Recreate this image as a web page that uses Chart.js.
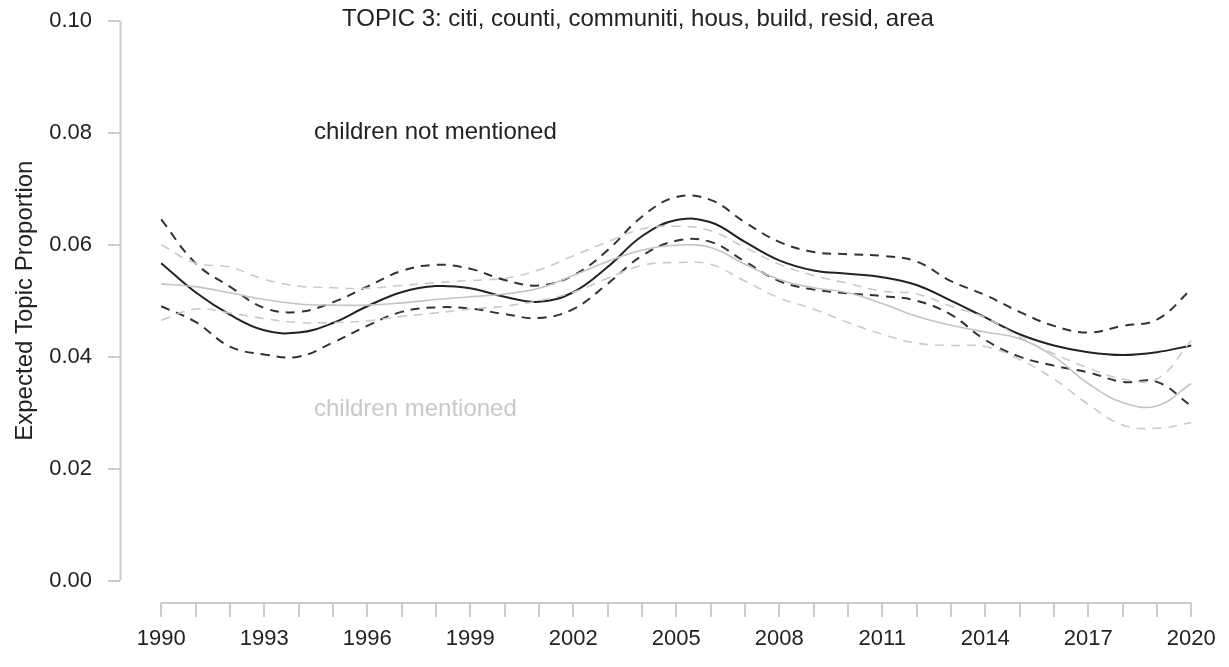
<!DOCTYPE html>
<html>
<head>
<meta charset="utf-8">
<script src="https://cdn.jsdelivr.net/npm/chart.js@4.4.1/dist/chart.umd.min.js"></script>
<style>
  html, body { margin: 0; padding: 0; background: #ffffff; }
  #wrap { width: 1229px; height: 667px; position: relative; }
</style>
</head>
<body>
<div id="wrap"><canvas id="c"></canvas></div>
<script>
// Years on the horizontal axis
const years = [1990, 1991, 1992, 1993, 1994, 1995, 1996, 1997, 1998, 1999,
               2000, 2001, 2002, 2003, 2004, 2005, 2006, 2007, 2008, 2009,
               2010, 2011, 2012, 2013, 2014, 2015, 2016, 2017, 2018, 2019, 2020];

// Expected topic proportion, documents where children are not mentioned
const notMentionedMean = [0.0567, 0.0515, 0.0475, 0.0447, 0.0443, 0.0460, 0.0490, 0.0515, 0.0526, 0.0522,
                          0.0507, 0.0498, 0.0515, 0.0560, 0.0615, 0.0644, 0.0640, 0.0605, 0.0572, 0.0554,
                          0.0548, 0.0542, 0.0528, 0.0500, 0.0470, 0.0440, 0.0420, 0.0408, 0.0403, 0.0408, 0.0420];
const notMentionedUpper = [0.0645, 0.0567, 0.0525, 0.0487, 0.0480, 0.0497, 0.0525, 0.0553, 0.0564, 0.0557,
                           0.0537, 0.0527, 0.0545, 0.0590, 0.0650, 0.0685, 0.0680, 0.0640, 0.0605, 0.0587,
                           0.0583, 0.0580, 0.0570, 0.0535, 0.0510, 0.0480, 0.0455, 0.0443, 0.0455, 0.0466, 0.0520];
const notMentionedLower = [0.0490, 0.0462, 0.0418, 0.0404, 0.0400, 0.0425, 0.0455, 0.0480, 0.0488, 0.0486,
                           0.0476, 0.0469, 0.0485, 0.0530, 0.0580, 0.0607, 0.0605, 0.0570, 0.0535, 0.0520,
                           0.0513, 0.0508, 0.0500, 0.0475, 0.0430, 0.0400, 0.0384, 0.0372, 0.0355, 0.0355, 0.0312];

// Expected topic proportion, documents where children are mentioned
const mentionedMean = [0.0530, 0.0525, 0.0514, 0.0502, 0.0494, 0.0492, 0.0492, 0.0496, 0.0502, 0.0507,
                       0.0512, 0.0522, 0.0545, 0.0570, 0.0590, 0.0599, 0.0595, 0.0565, 0.0538, 0.0523,
                       0.0514, 0.0495, 0.0472, 0.0456, 0.0444, 0.0432, 0.0400, 0.0352, 0.0318, 0.0312, 0.0352];
const mentionedUpper = [0.0600, 0.0567, 0.0560, 0.0538, 0.0526, 0.0523, 0.0522, 0.0527, 0.0532, 0.0536,
                        0.0540, 0.0555, 0.0580, 0.0605, 0.0628, 0.0633, 0.0625, 0.0595, 0.0565, 0.0545,
                        0.0531, 0.0517, 0.0512, 0.0490, 0.0470, 0.0435, 0.0405, 0.0380, 0.0360, 0.0360, 0.0429];
const mentionedLower = [0.0465, 0.0485, 0.0478, 0.0468, 0.0461, 0.0461, 0.0464, 0.0472, 0.0478, 0.0485,
                        0.0490, 0.0500, 0.0515, 0.0540, 0.0563, 0.0568, 0.0565, 0.0535, 0.0505, 0.0485,
                        0.0461, 0.0440, 0.0424, 0.0420, 0.0418, 0.0395, 0.0360, 0.0315, 0.0278, 0.0272, 0.0282];

// Tick values and labels
const yTicks = [0, 0.02, 0.04, 0.06, 0.08, 0.10];
const yTickLabels = ['0.00', '0.02', '0.04', '0.06', '0.08', '0.10'];
const xLabelYears = [1990, 1993, 1996, 1999, 2002, 2005, 2008, 2011, 2014, 2017, 2020];

// Text
const titleText = 'TOPIC 3: citi, counti, communiti, hous, build, resid, area';
const yAxisTitle = 'Expected Topic Proportion';
const groupLabels = ['children not mentioned', 'children mentioned'];
const groupLabelX = [1994.45, 1994.45];
const groupLabelY = [0.0800, 0.0305];

const FONT = '"Liberation Sans", Arimo, Arial, Helvetica, sans-serif';
const INK = '#222222';
const AXIS = '#cccccc';
const BLACK_LINE = '#222222';
const BLACK_DASH = '#333333';
const GRAY_LINE = '#c4c4c4';
const GRAY_DASH = '#cacaca';

function series(values, color, width, dash) {
  return {
    data: years.map((y, i) => ({ x: y, y: values[i] })),
    borderColor: color,
    borderWidth: width,
    borderDash: dash || [],
    pointRadius: 0,
    tension: 0.4,
    fill: false
  };
}

// Base-graphics style axes: lines span only first to last tick, plus text
const decorations = {
  id: 'decorations',
  afterDraw(chart) {
    const { ctx, chartArea, scales } = chart;
    const xs = scales.x, ys = scales.y;
    ctx.save();
    ctx.strokeStyle = AXIS;
    ctx.lineWidth = 2;
    ctx.beginPath();
    ctx.moveTo(xs.left + 0.5, ys.getPixelForValue(yTicks[0]));
    ctx.lineTo(xs.left + 0.5, ys.getPixelForValue(yTicks[yTicks.length - 1]));
    ctx.moveTo(xs.getPixelForValue(years[0]), chartArea.bottom);
    ctx.lineTo(xs.getPixelForValue(years[years.length - 1]), chartArea.bottom);
    ctx.stroke();

    // main title
    ctx.fillStyle = INK;
    ctx.font = '24px ' + FONT;
    ctx.textAlign = 'center';
    ctx.textBaseline = 'middle';
    ctx.fillText(titleText, 638, 19);

    // group labels
    ctx.textAlign = 'left';
    ctx.fillStyle = INK;
    ctx.fillText(groupLabels[0], xs.getPixelForValue(groupLabelX[0]), ys.getPixelForValue(groupLabelY[0]));
    ctx.fillStyle = '#c8c8c8';
    ctx.fillText(groupLabels[1], xs.getPixelForValue(groupLabelX[1]), ys.getPixelForValue(groupLabelY[1]));

    // rotated y axis title
    ctx.fillStyle = INK;
    ctx.translate(25, (ys.getPixelForValue(0) + ys.getPixelForValue(0.1)) / 2);
    ctx.rotate(-Math.PI / 2);
    ctx.textAlign = 'center';
    ctx.fillText(yAxisTitle, 0, 0);
    ctx.restore();
  }
};

new Chart(document.getElementById('c'), {
  type: 'line',
  data: {
    datasets: [
      series(mentionedUpper, GRAY_DASH, 1.6, [9, 7]),
      series(mentionedLower, GRAY_DASH, 1.6, [9, 7]),
      series(mentionedMean, GRAY_LINE, 1.6),
      series(notMentionedUpper, BLACK_DASH, 2, [9, 7]),
      series(notMentionedLower, BLACK_DASH, 2, [9, 7]),
      series(notMentionedMean, BLACK_LINE, 2)
    ]
  },
  options: {
    responsive: true,
    maintainAspectRatio: false,
    animation: false,
    devicePixelRatio: 1,
    layout: { padding: 0 },
    plugins: { legend: { display: false }, tooltip: { enabled: false }, title: { display: false } },
    scales: {
      x: {
        type: 'linear',
        min: 1988.8,
        max: 2021.1,
        afterFit(s) { s.height = 64; s.paddingLeft = 0; s.paddingRight = 0; },
        afterBuildTicks(s) { s.ticks = years.map(v => ({ value: v })); },
        grid: { drawOnChartArea: false, drawTicks: true, tickLength: 14, color: AXIS, lineWidth: 2 },
        border: { display: false },
        ticks: {
          autoSkip: false,
          maxRotation: 0,
          padding: 9,
          color: INK,
          font: { family: FONT, size: 22 },
          callback: (v) => xLabelYears.includes(v) ? String(v) : ''
        }
      },
      y: {
        type: 'linear',
        min: -0.004,
        max: 0.1037,
        afterFit(s) { s.width = 120; s.paddingTop = 0; s.paddingBottom = 0; },
        afterBuildTicks(s) { s.ticks = yTicks.map(v => ({ value: v })); },
        grid: { drawOnChartArea: false, drawTicks: true, tickLength: 12, color: AXIS, lineWidth: 2 },
        border: { display: false },
        ticks: {
          padding: 16,
          color: INK,
          font: { family: FONT, size: 22 },
          callback: (v, i) => yTickLabels[i]
        }
      }
    }
  },
  plugins: [decorations]
});
</script>
</body>
</html>
